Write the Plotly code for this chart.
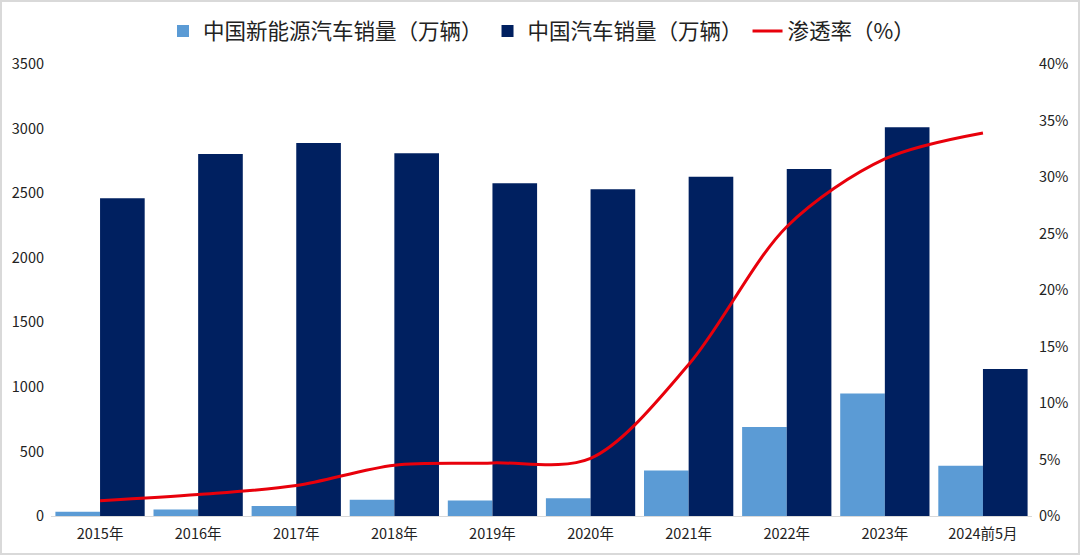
import plotly.graph_objects as go

categories = ["2015年", "2016年", "2017年", "2018年", "2019年", "2020年", "2021年", "2022年", "2023年", "2024前5月"]
nev_sales = [33.1, 50.7, 77.7, 125.6, 120.6, 136.7, 352.1, 688.7, 949.5, 389.5]
total_sales = [2459.8, 2802.8, 2887.9, 2808.1, 2576.9, 2531.1, 2627.5, 2686.4, 3009.4, 1138.4]
penetration = [1.35, 1.9, 2.7, 4.5, 4.7, 5.1, 13.4, 25.6, 31.6, 33.9]

left_ticks = [0, 500, 1000, 1500, 2000, 2500, 3000, 3500]
right_ticks = [0, 5, 10, 15, 20, 25, 30, 35, 40]

FONT = "Noto Sans CJK SC, Microsoft YaHei, sans-serif"

fig = go.Figure()
fig.add_trace(go.Bar(
    x=categories, y=nev_sales, name="中国新能源汽车销量（万辆）",
    marker=dict(color="#5B9BD5", line=dict(width=0)),
))
fig.add_trace(go.Bar(
    x=categories, y=total_sales, name="中国汽车销量（万辆）",
    marker=dict(color="#002060", line=dict(width=0)),
))
fig.add_trace(go.Scatter(
    x=categories, y=penetration, name="渗透率（%）", yaxis="y2",
    mode="lines", line=dict(color="#E8000B", width=3, shape="spline", smoothing=0.9),
))

W, H = 1080, 555
ml, mr, mt, mb = 51, 48, 64, 39
pw, ph = W - ml - mr, H - mt - mb

fig.update_layout(
    width=W, height=H,
    margin=dict(l=ml, r=mr, t=mt, b=mb, autoexpand=False),
    paper_bgcolor="white", plot_bgcolor="white",
    barmode="group", bargap=0.09, bargroupgap=0,
    font=dict(family=FONT, size=14.5, color="#222222"),
    showlegend=True,
    legend=dict(
        orientation="h", x=0.5, xanchor="center", y=1 + 33 / ph, yanchor="middle",
        font=dict(size=21.5, color="#222222", family=FONT),
        traceorder="normal",
    ),
    xaxis=dict(
        showgrid=False, showline=True, linecolor="#D9D9D9", linewidth=1,
        ticks="", tickfont=dict(size=14.5), ticklabelstandoff=5,
    ),
    yaxis=dict(
        range=[0, 3500], tickvals=left_ticks, showgrid=False, zeroline=False,
        showline=False, ticks="", tickfont=dict(size=14.5), ticklabelstandoff=6,
    ),
    yaxis2=dict(
        range=[0, 40], tickvals=right_ticks, ticktext=[f"{v}%" for v in right_ticks],
        overlaying="y", side="right", showgrid=False, zeroline=False,
        showline=False, ticks="", tickfont=dict(size=14.5), ticklabelstandoff=6,
    ),
    shapes=[dict(
        type="rect", xref="paper", yref="paper",
        x0=(-ml + 1) / pw, x1=(pw + mr - 1) / pw,
        y0=(-mb + 1) / ph, y1=(ph + mt - 1) / ph,
        line=dict(color="#D9D9D9", width=2), fillcolor="rgba(0,0,0,0)", layer="below",
    )],
)

fig.write_html(
    "out.html",
    config={"displayModeBar": False},
    post_script="document.body.style.margin='0';document.body.style.overflow='hidden';",
)
